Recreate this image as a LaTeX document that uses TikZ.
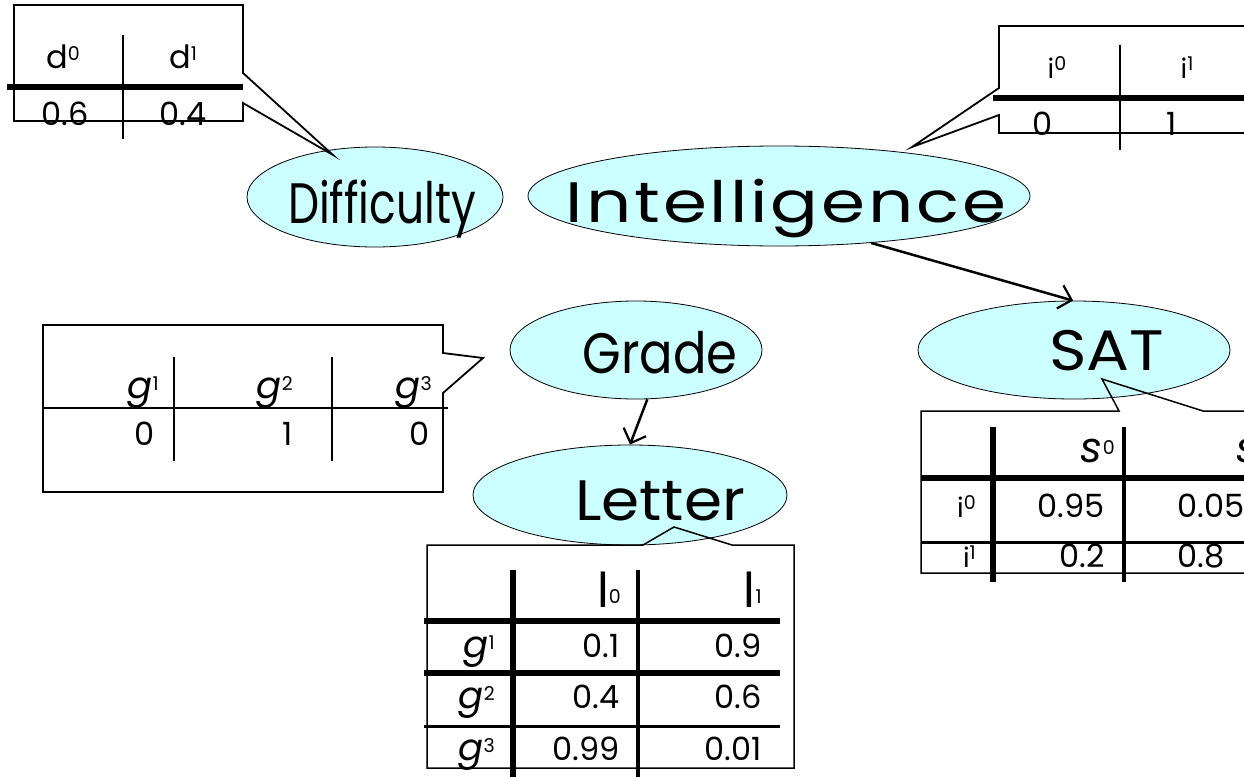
\documentclass[tikz,border=0pt]{standalone}
\usepackage{fontspec}
\setmainfont{Poppins}
\usetikzlibrary{arrows.meta,shapes.geometric}
\definecolor{nodefill}{HTML}{CCFFFF}
\newcommand{\supx}[1]{\raisebox{8pt}{\fontsize{19}{19}\selectfont #1}}
\newcommand{\subx}[1]{\raisebox{4pt}{\fontsize{19}{19}\selectfont #1}}
\newcommand{\lbl}[3]{\resizebox{#1}{\height}{\addfontfeature{LetterSpace=#2}#3}}
\begin{document}
\begin{tikzpicture}[x=1pt,y=-1pt,
  var/.style={ellipse, draw=black, line width=0.8pt, fill=nodefill, inner sep=0pt},
  varlabel/.style={inner sep=0pt, anchor=base, font=\fontsize{57}{64}\selectfont},
  arr/.style={line width=2.5pt, -{Straight Barb[length=12pt,width=24pt,line width=2.2pt]}},
  callout/.style={draw=black, line width=1.8pt, line join=miter},
  thickrule/.style={line width=6.5pt},
  midrule/.style={line width=3.5pt},
  thinrule/.style={line width=2pt},
  tt/.style={inner sep=0pt, font=\fontsize{32}{36}\selectfont}]
\useasboundingbox (0,0) rectangle (1244,776);
\clip (0,0) rectangle (1244,776);

% variable nodes
\node[var, minimum width=256pt, minimum height=100pt] (D) at (375,197) {};
\node[var, minimum width=502pt, minimum height=100pt] (I) at (779,196) {};
\node[var, minimum width=252pt, minimum height=98pt] (G) at (636,350) {};
\node[var, minimum width=312pt, minimum height=98pt] (S) at (1074,350) {};
\node[var, minimum width=314pt, minimum height=100pt] (L) at (630,495) {};
\node[varlabel] (Dlab) at (382,223) {\lbl{188pt}{0}{Difficulty}};
\node[varlabel] (Ilab) at (786,222) {\lbl{440pt}{4}{Intelligence}};
\node[varlabel] (Glab) at (660,373) {\lbl{155pt}{0}{Grade}};
\node[varlabel] (Slab) at (1107,370) {\lbl{115pt}{0}{SAT}};
\node[varlabel] (Llab) at (660,520) {\lbl{170pt}{0}{Letter}};

% edges
\draw[arr] (G.-77) -- (L.90);
\draw[arr] (I.-27) -- (S.91);

% callout tips
\coordinate (Dtip) at (333,155);
\coordinate (Itip) at (912,147);
\coordinate (Gtip) at (483,358);
\coordinate (Ltip) at (674,527);
\coordinate (Stip) at (1102,379);

% Difficulty CPD
\draw[callout] (243,73) -- (Dtip) -- (243,103) -- (243,121) -- (14,121) -- (14,5) -- (243,5) -- cycle;
\draw[thickrule] (7,87) -- (243,87);
\draw[thinrule] (123,35) -- (123,139);
\node[tt, anchor=base] (d0) at (63,68) {d\supx{0}};
\node[tt, anchor=base] (d1) at (183,68) {d\supx{1}};
\node[tt, anchor=base] (dv0) at (65,125) {0.6};
\node[tt, anchor=base] (dv1) at (183,125) {0.4};

% Intelligence CPD
\draw[callout] (1250,26) -- (999,26) -- (999,88) -- (Itip) -- (999,115) -- (999,133) -- (1250,133);
\draw[thickrule] (993,98) -- (1250,98);
\draw[thinrule] (1120,45) -- (1120,150);
\node[tt, anchor=base] (i0) at (1057,78) {{\fontsize{27}{30}\selectfont i}\supx{0}};
\node[tt, anchor=base] (i1) at (1187,78) {{\fontsize{27}{30}\selectfont i}\supx{1}};
\node[tt, anchor=base] (iv0) at (1043,135) {0};
\node[tt, anchor=base] (iv1) at (1172,135) {1};

% Grade CPD
\draw[callout] (443,353) -- (Gtip) -- (443,393) -- (443,492) -- (43,492) -- (43,325) -- (443,325) -- cycle;
\draw[thinrule] (43,408) -- (448,408);
\draw[line width=2.5pt] (174,357) -- (174,461);
\draw[line width=2.5pt] (332,357) -- (332,461);
\node[tt, anchor=base east] (g1) at (159,398) {{\fontsize{37}{40}\selectfont\itshape g}\supx{1}};
\node[tt, anchor=base east] (g2) at (293,398) {{\fontsize{37}{40}\selectfont\itshape g}\supx{2}};
\node[tt, anchor=base east] (g3) at (432,398) {{\fontsize{37}{40}\selectfont\itshape g}\supx{3}};
\node[tt, anchor=base east] (gv1) at (155,445) {0};
\node[tt, anchor=base east] (gv2) at (293,445) {1};
\node[tt, anchor=base east] (gv3) at (430,445) {0};

% Letter CPD
\draw[callout, line width=1.5pt] (643,545) -- (Ltip) -- (732,545) -- (794,545) -- (794,768) -- (427,768) -- (427,545) -- cycle;
\draw[thickrule] (424,621) -- (780,621);
\draw[thickrule] (424,673) -- (780,673);
\draw[line width=3pt] (424,726) -- (780,726);
\draw[thickrule] (513,570) -- (513,780);
\draw[midrule] (638,570) -- (638,780);
\node[tt, anchor=base east] (l0) at (621,607) {{\fontsize{48}{50}\selectfont l}\subx{0}};
\node[tt, anchor=base east] (l1) at (762,607) {{\fontsize{48}{50}\selectfont l}\subx{1}};
\node[tt, anchor=base east] (lg1) at (495,657) {{\fontsize{37}{40}\selectfont\itshape g}\supx{1}};
\node[tt, anchor=base east] (lg2) at (495,708) {{\fontsize{37}{40}\selectfont\itshape g}\supx{2}};
\node[tt, anchor=base east] (lg3) at (495,760) {{\fontsize{37}{40}\selectfont\itshape g}\supx{3}};
\node[tt, anchor=base east] (l11) at (620,657) {0.1};
\node[tt, anchor=base east] (l12) at (762,657) {0.9};
\node[tt, anchor=base east] (l21) at (620,708) {0.4};
\node[tt, anchor=base east] (l22) at (762,708) {0.6};
\node[tt, anchor=base east] (l31) at (620,760) {0.99};
\node[tt, anchor=base east] (l32) at (762,760) {0.01};

% SAT CPD
\draw[callout, line width=1.5pt] (1250,411) -- (1203,411) -- (Stip) -- (1119,411) -- (921,411) -- (921,573) -- (1250,573);
\draw[thickrule] (921,478) -- (1250,478);
\draw[line width=3pt] (921,542) -- (1250,542);
\draw[thickrule] (993,427) -- (993,582);
\draw[midrule] (1124,427) -- (1124,582);
\node[tt, anchor=base east] (s0) at (1115,462) {{\fontsize{42}{44}\selectfont\itshape s}\supx{0}};
\node[tt, anchor=base west] (s1) at (1236,462) {{\fontsize{42}{44}\selectfont\itshape s}\supx{1}};
\node[tt, anchor=base east] (si0) at (976,517) {{\fontsize{27}{30}\selectfont i}\supx{0}};
\node[tt, anchor=base east] (si1) at (976,567) {{\fontsize{27}{30}\selectfont i}\supx{1}};
\node[tt, anchor=base east] (s11) at (1105,517) {0.95};
\node[tt, anchor=base west] (s12) at (1177,517) {0.05};
\node[tt, anchor=base east] (s21) at (1105,567) {0.2};
\node[tt, anchor=base west] (s22) at (1177,567) {0.8};
\end{tikzpicture}
\end{document}
